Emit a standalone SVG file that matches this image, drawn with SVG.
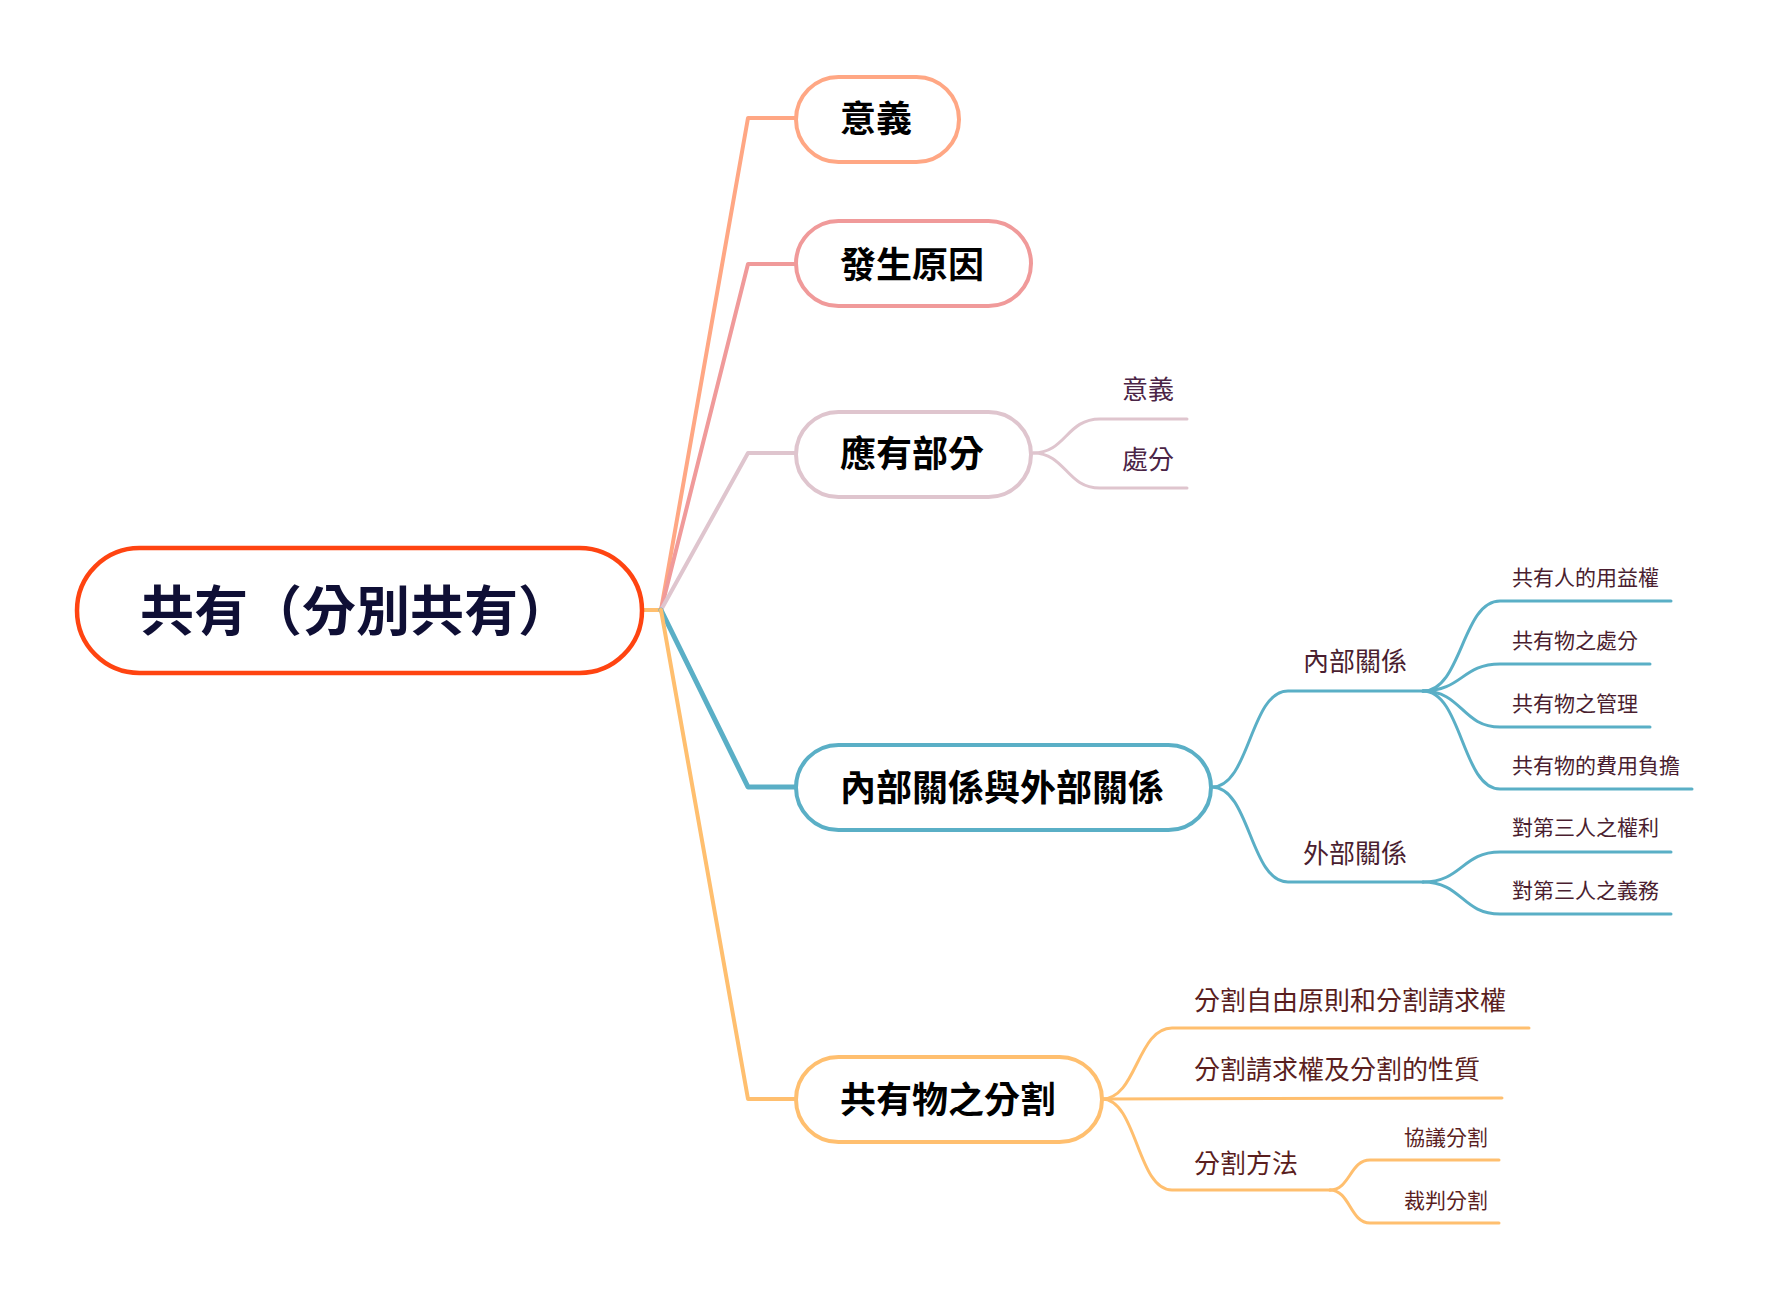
<svg xmlns="http://www.w3.org/2000/svg" width="1767" height="1300" viewBox="0 0 1767 1300">
<style>
text{font-family:"Noto Sans CJK TC","Noto Sans CJK SC",sans-serif;dominant-baseline:central}
.main{font-size:36px;font-weight:700;fill:#000}
.box{fill:#fff;stroke-width:4}
.c{fill:none;stroke-linecap:round;stroke-linejoin:round}
.sub{font-size:26px}
.leaf{font-size:21px}
</style>
<rect width="1767" height="1300" fill="#fff"/>
<g id="connectors">
<path class="c" d="M642,610 L661,610" stroke="#FFBF6F" stroke-width="4"/>
<path class="c" d="M661,610 L748,118 L796,118" stroke="#FFA784" stroke-width="4"/>
<path class="c" d="M661,610 L748,264 L796,264" stroke="#F09A9A" stroke-width="4"/>
<path class="c" d="M661,610 L748,453 L796,453" stroke="#DFC5CE" stroke-width="4"/>
<path class="c" d="M661,610 L748,787 L796,787" stroke="#5AAFC6" stroke-width="5"/>
<path class="c" d="M661,610 L748,1099 L796,1099" stroke="#FFBF6F" stroke-width="4"/>
<g stroke="#DFC5CE" stroke-width="3" class="c">
<path d="M1033,453 C1066,453 1066,419 1100,419 L1187,419"/>
<path d="M1033,453 C1066,453 1066,488 1100,488 L1187,488"/>
</g>
<g stroke="#5AAFC6" stroke-width="3" class="c">
<path d="M1212,787 C1250,787 1250,691 1288,691 L1423,691"/>
<path d="M1212,787 C1250,787 1250,882 1288,882 L1423,882"/>
<path d="M1423,691 C1462,691 1462,601 1500,601 L1671,601"/>
<path d="M1423,691 C1462,691 1462,664 1500,664 L1650,664"/>
<path d="M1423,691 C1462,691 1462,727 1500,727 L1650,727"/>
<path d="M1423,691 C1462,691 1462,789 1500,789 L1692,789"/>
<path d="M1423,882 C1462,882 1462,852 1500,852 L1671,852"/>
<path d="M1423,882 C1462,882 1462,914 1500,914 L1671,914"/>
</g>
<g stroke="#FFBF6F" stroke-width="3" class="c">
<path d="M1102,1099 C1137,1099 1137,1028 1172,1028 L1529,1028"/>
<path d="M1102,1099 L1502,1098"/>
<path d="M1102,1099 C1137,1099 1137,1190 1172,1190 L1330,1190"/>
<path d="M1330,1190 C1350,1190 1350,1160 1370,1160 L1499,1160"/>
<path d="M1330,1190 C1350,1190 1350,1223 1370,1223 L1499,1223"/>
</g>
</g>
<g id="root">
<rect x="77" y="548" width="565" height="125" rx="62.5" fill="#fff" stroke="#FF4411" stroke-width="4.5"/>
<text x="140" y="607" font-size="54" font-weight="700" fill="#0F0F35">共有（分別共有）</text>
</g>
<g id="n-meaning">
<rect class="box" x="796" y="77" width="163" height="85" rx="42.5" stroke="#FFA784"/>
<text class="main" x="840" y="116">意義</text>
</g>
<g id="n-cause">
<rect class="box" x="796" y="221" width="235" height="85" rx="42.5" stroke="#F09A9A"/>
<text class="main" x="840" y="262">發生原因</text>
</g>
<g id="n-share">
<rect class="box" x="796" y="412" width="235" height="85" rx="42.5" stroke="#DFC5CE"/>
<text class="main" x="840" y="451">應有部分</text>
<text class="sub" x="1122" y="387" fill="#4A2446">意義</text>
<text class="sub" x="1122" y="457" fill="#4A2446">處分</text>
</g>
<g id="n-relation">
<rect class="box" x="796" y="745" width="415" height="85" rx="42.5" stroke="#5AAFC6" stroke-width="4.5"/>
<text class="main" x="840" y="785">內部關係與外部關係</text>
<text class="sub" x="1303" y="659" fill="#4A1E30">內部關係</text>
<text class="sub" x="1303" y="851" fill="#4A1E30">外部關係</text>
<text class="leaf" x="1512" y="576" fill="#4A1E30">共有人的用益權</text>
<text class="leaf" x="1512" y="639" fill="#4A1E30">共有物之處分</text>
<text class="leaf" x="1512" y="702" fill="#4A1E30">共有物之管理</text>
<text class="leaf" x="1512" y="764" fill="#4A1E30">共有物的費用負擔</text>
<text class="leaf" x="1512" y="826" fill="#4A1E30">對第三人之權利</text>
<text class="leaf" x="1512" y="889" fill="#4A1E30">對第三人之義務</text>
</g>
<g id="n-partition">
<rect class="box" x="796" y="1057" width="306" height="85" rx="42.5" stroke="#FFBF6F"/>
<text class="main" x="840" y="1097">共有物之分割</text>
<text class="sub" x="1194" y="998" font-size="29" fill="#5A1E1E">分割自由原則和分割請求權</text>
<text class="sub" x="1194" y="1067" font-size="29" fill="#5A1E1E">分割請求權及分割的性質</text>
<text class="sub" x="1194" y="1161" font-size="29" fill="#5A1E1E">分割方法</text>
<text class="leaf" x="1404" y="1136" fill="#5A1E1E">協議分割</text>
<text class="leaf" x="1404" y="1199" fill="#5A1E1E">裁判分割</text>
</g>
</svg>
